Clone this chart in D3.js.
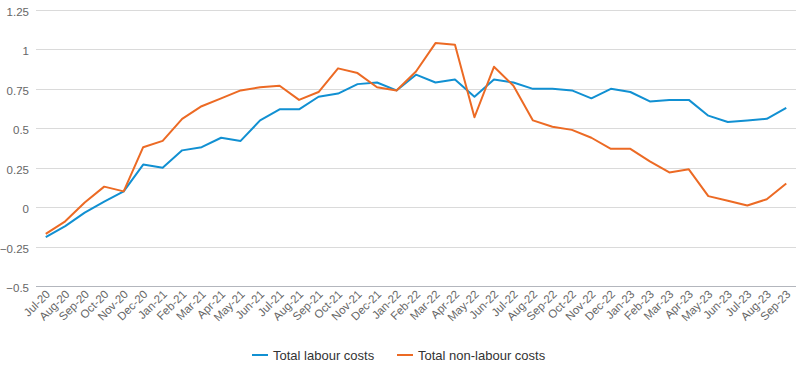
<!DOCTYPE html>
<html>
<head>
<meta charset="utf-8">
<script src="https://cdn.jsdelivr.net/npm/d3@7"></script>
<style>
  body { margin: 0; background: #fff; }
  text { font-family: "Liberation Sans", Arial, sans-serif; }
</style>
</head>
<body>
<div id="chart"></div>
<script>
// months on the x axis
const months = ["Jul-20","Aug-20","Sep-20","Oct-20","Nov-20","Dec-20",
  "Jan-21","Feb-21","Mar-21","Apr-21","May-21","Jun-21","Jul-21","Aug-21","Sep-21","Oct-21","Nov-21","Dec-21",
  "Jan-22","Feb-22","Mar-22","Apr-22","May-22","Jun-22","Jul-22","Aug-22","Sep-22","Oct-22","Nov-22","Dec-22",
  "Jan-23","Feb-23","Mar-23","Apr-23","May-23","Jun-23","Jul-23","Aug-23","Sep-23"];

const labour = [-0.19,-0.12,-0.035,0.035,0.10,0.27,
  0.25,0.36,0.38,0.44,0.42,0.55,0.62,0.62,0.70,0.72,0.78,0.79,
  0.74,0.84,0.79,0.81,0.70,0.81,0.79,0.75,0.75,0.74,0.69,0.75,
  0.73,0.67,0.68,0.68,0.58,0.54,0.55,0.56,0.63];

const nonLabour = [-0.17,-0.09,0.03,0.13,0.10,0.38,
  0.42,0.56,0.64,0.69,0.74,0.76,0.77,0.68,0.73,0.88,0.85,0.76,
  0.74,0.86,1.04,1.03,0.57,0.89,0.77,0.55,0.51,0.49,0.44,0.37,
  0.37,0.29,0.22,0.24,0.07,0.04,0.01,0.05,0.15];

const yTicks = [-0.5,-0.25,0,0.25,0.5,0.75,1,1.25];

const seriesNames = ["Total labour costs", "Total non-labour costs"];
const colors = ["#1190d2", "#ec6a24"];

///////////////////////////////////////////
const width = 802, height = 371;
const plotLeft = 36, plotRight = 796, plotTop = 10, plotBottom = 286;

let svg = d3.select("#chart").append("svg")
  .attr("width", width)
  .attr("height", height);

let x = d3.scaleBand()
  .domain(months)
  .range([plotLeft, plotRight]);

let y = d3.scaleLinear()
  .domain([-0.5, 1.25])
  .range([plotBottom, plotTop]);

// grid + y labels
let yAxis = svg.append("g");
yAxis.selectAll("line")
  .data(yTicks)
  .enter()
  .append("line")
  .attr("x1", plotLeft)
  .attr("x2", plotRight)
  .attr("y1", d => Math.round(y(d)) + 0.5)
  .attr("y2", d => Math.round(y(d)) + 0.5)
  .attr("stroke", d => d == -0.5 ? "#b3b6bd" : "#dadada")
  .attr("stroke-width", 1);

yAxis.selectAll("text")
  .data(yTicks)
  .enter()
  .append("text")
  .attr("x", 29)
  .attr("y", d => y(d) + 2)
  .attr("dy", "0.35em")
  .attr("text-anchor", "end")
  .attr("font-size", 11.5)
  .attr("fill", "#666")
  .text(d => d3.format("")(d));

// x labels, rotated
svg.append("g")
  .selectAll("text")
  .data(months)
  .enter()
  .append("text")
  .attr("transform", d => `translate(${x(d) + x.bandwidth() / 2 + 5},${plotBottom + 9}) rotate(-45)`)
  .attr("text-anchor", "end")
  .attr("font-size", 11.5)
  .attr("fill", "#666")
  .text(d => d);

// lines
let line = d3.line()
  .x((d, i) => x(months[i]) + x.bandwidth() / 2)
  .y(d => y(d));

[labour, nonLabour].forEach(function(vals, i) {
  svg.append("path")
    .datum(vals)
    .attr("d", line)
    .attr("fill", "none")
    .attr("stroke", colors[i])
    .attr("stroke-width", 2)
    .attr("stroke-linejoin", "round");
});

// legend
let legend = svg.append("g");
let legendX = [252, 397];
seriesNames.forEach(function(name, i) {
  legend.append("line")
    .attr("x1", legendX[i])
    .attr("x2", legendX[i] + 16)
    .attr("y1", 355)
    .attr("y2", 355)
    .attr("stroke", colors[i])
    .attr("stroke-width", 2);
  legend.append("text")
    .attr("x", legendX[i] + 21)
    .attr("y", 355)
    .attr("dy", "0.35em")
    .attr("font-size", 13)
    .attr("fill", "#333")
    .text(name);
});
</script>
</body>
</html>
